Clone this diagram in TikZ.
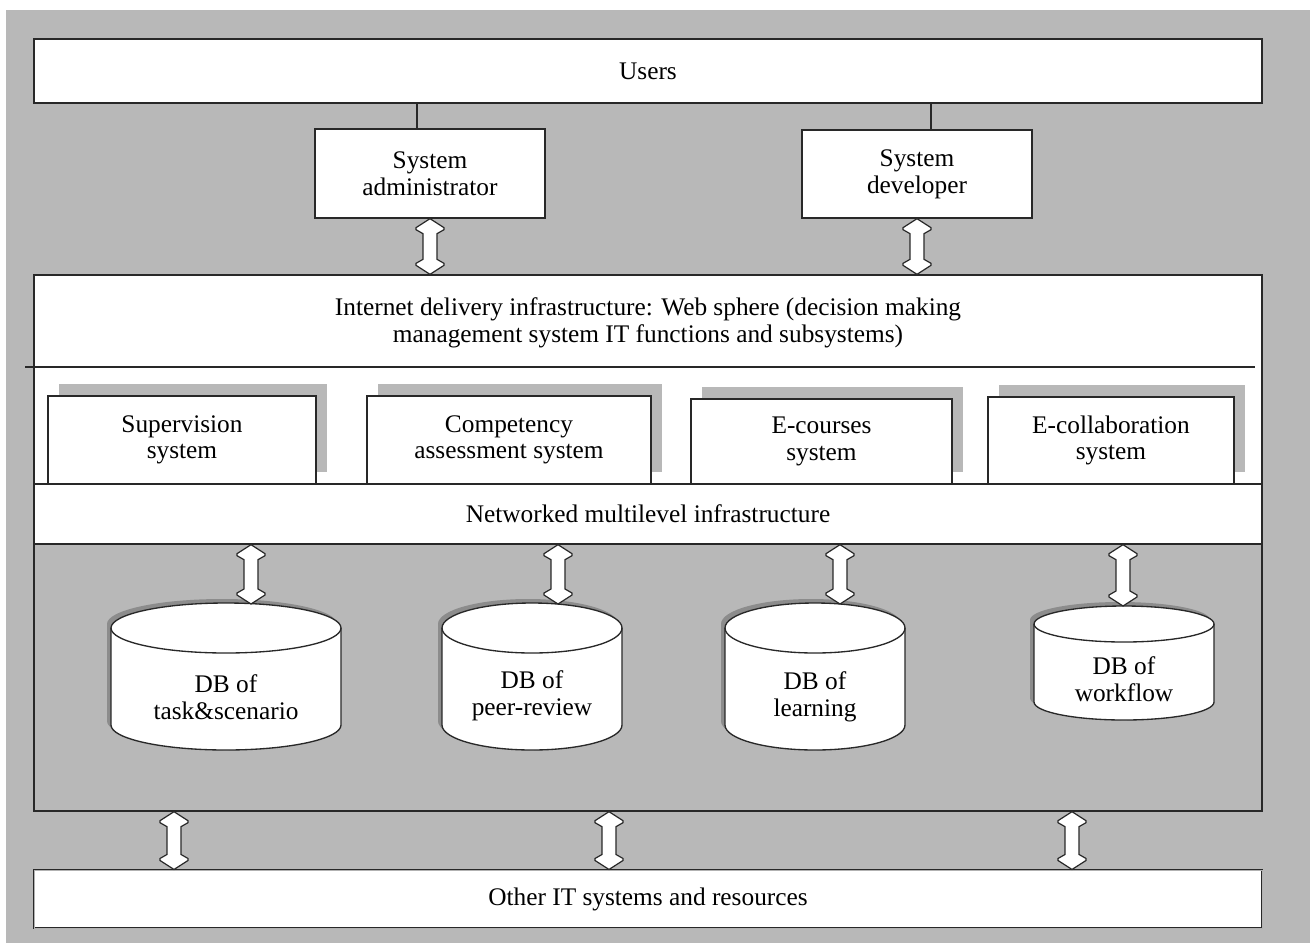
\documentclass[tikz,border=0pt]{standalone}
\usepackage{fontspec}
\setmainfont{Liberation Serif}
\usetikzlibrary{calc,shadows}
\definecolor{bggray}{RGB}{184,184,184}
\definecolor{linec}{RGB}{40,40,40}
\definecolor{cylshade}{RGB}{140,140,140}

\newcommand{\hollowarrow}[2]{%
\draw[harrow] let \p1=#1, \p2=#2 in
 (\x1,\y1) -- ({\x1+10.5pt},{\y1-6.75pt}) -- ({\x1+10.5pt},{\y1-8.25pt}) -- ({\x1+5.25pt},{\y1-11.25pt})
 -- ({\x1+5.25pt},{\y2+11.25pt}) -- ({\x1+10.5pt},{\y2+8.25pt}) -- ({\x1+10.5pt},{\y2+6.75pt}) -- (\x1,\y2)
 -- ({\x1-10.5pt},{\y2+6.75pt}) -- ({\x1-10.5pt},{\y2+8.25pt}) -- ({\x1-5.25pt},{\y2+11.25pt})
 -- ({\x1-5.25pt},{\y1-11.25pt}) -- ({\x1-10.5pt},{\y1-8.25pt}) -- ({\x1-10.5pt},{\y1-6.75pt}) -- cycle;}

% cx, rx(px), rx(pt), top centre y, bottom centre y, ry(pt)
\newcommand{\dbcyl}[6]{%
 \begin{scope}[shift={(-4,-4)}]
 \fill[cylshade] (#1-#2,#4) -- (#1-#2,#5) arc[start angle=180,end angle=360,x radius=#3,y radius=#6] -- (#1+#2,#4) arc[start angle=0,end angle=180,x radius=#3,y radius=#6] -- cycle;
 \end{scope}
 \filldraw[cyl] (#1-#2,#4) -- (#1-#2,#5) arc[start angle=180,end angle=360,x radius=#3,y radius=#6] -- (#1+#2,#4) arc[start angle=0,end angle=180,x radius=#3,y radius=#6] -- cycle;
 \draw[cyl, fill=none] (#1-#2,#4) arc[start angle=180,end angle=360,x radius=#3,y radius=#6];}

\begin{document}
\begin{tikzpicture}[x=0.75pt,y=-0.75pt,
  every node/.style={font=\fontsize{19}{20}\selectfont, align=center, inner sep=0pt},
  box/.style={draw=linec, line width=1pt, fill=white},
  conn/.style={draw=linec, line width=1pt},
  harrow/.style={draw=linec, line width=0.9pt, fill=white, line join=miter},
  sub/.style={box, drop shadow={shadow xshift=8.25pt, shadow yshift=9pt, fill=bggray, opacity=1}},
  cyl/.style={draw=linec, line width=1pt, fill=white},
  ]
\useasboundingbox (0,0) rectangle (1316,943);
\fill[bggray] (6,10) rectangle (1310,943);

\node[box, minimum width=921pt, minimum height=48pt] (users) at (648,71) {Users};
\node[box, minimum width=172.5pt, minimum height=66.75pt] (adm) at (430,173.5) {System\\administrator};
\node[box, minimum width=172.5pt, minimum height=66pt] (dev) at (917,174) {System\\developer};
\draw[conn] ([xshift=-9.75pt]adm.north) -- ([xshift=-9.75pt]adm.north |- users.south);
\draw[conn] ([xshift=10.5pt]dev.north) -- ([xshift=10.5pt]dev.north |- users.south);

\node[fill=white, minimum width=921pt, minimum height=156.75pt] (webzone) at (648,379.5) {};
\node (web) at (648,323) {Internet delivery infrastructure: Web sphere (decision making\\management system IT functions and subsystems)};
\draw[conn] (25,367) -- (1255,367);

\node[sub, minimum width=201pt, minimum height=66pt] (sup) at (182,440) {Supervision\\system};
\node[sub, minimum width=213pt, minimum height=66pt] (comp) at (509,440) {Competency\\assessment system};
\node[sub, minimum width=195.75pt, minimum height=63.75pt] (ecou) at (821.5,441.5) {E-courses\\system};
\node[sub, minimum width=184.5pt, minimum height=65.25pt] (ecol) at (1111,440.5) {E-collaboration\\system};

\node[box, minimum width=921pt, minimum height=45pt] (net) at (648,514) {Networked multilevel infrastructure};
\node[draw=linec, line width=1pt, minimum width=921pt, minimum height=402pt] (frame) at (648,543) {};

\node[box, double=gray!60, double distance=0.6pt, line width=0.8pt, minimum width=921pt, minimum height=43.5pt] (other) at (648,899) {Other IT systems and resources};

\dbcyl{226}{115}{86.25pt}{628}{725}{18.75pt}
\dbcyl{532}{90}{67.5pt}{628}{725}{18.75pt}
\dbcyl{815}{90}{67.5pt}{628}{725}{18.75pt}
\dbcyl{1124}{90}{67.5pt}{624}{702}{13.5pt}

\node (db1) at (226,697) {DB of\\task\&scenario};
\node (db2) at (532,696) {DB of\\peer-review};
\node (db3) at (815,697) {DB of\\learning};
\node (db4) at (1124,679) {DB of\\workflow};

\coordinate (t1) at (251,604);
\coordinate (t2) at (558,604);
\coordinate (t3) at (840,604);
\coordinate (t4) at (1123,606);
\coordinate (l1) at (174,840);
\coordinate (l2) at (609,840);
\coordinate (l3) at (1072,840);

\hollowarrow{(adm.south)}{(adm.south |- frame.north)}
\hollowarrow{(dev.south)}{(dev.south |- frame.north)}
\hollowarrow{(net.south -| t1)}{(t1)}
\hollowarrow{(net.south -| t2)}{(t2)}
\hollowarrow{(net.south -| t3)}{(t3)}
\hollowarrow{(net.south -| t4)}{(t4)}
\hollowarrow{(frame.south -| l1)}{(other.north -| l1)}
\hollowarrow{(frame.south -| l2)}{(other.north -| l2)}
\hollowarrow{(frame.south -| l3)}{(other.north -| l3)}
\end{tikzpicture}
\end{document}
